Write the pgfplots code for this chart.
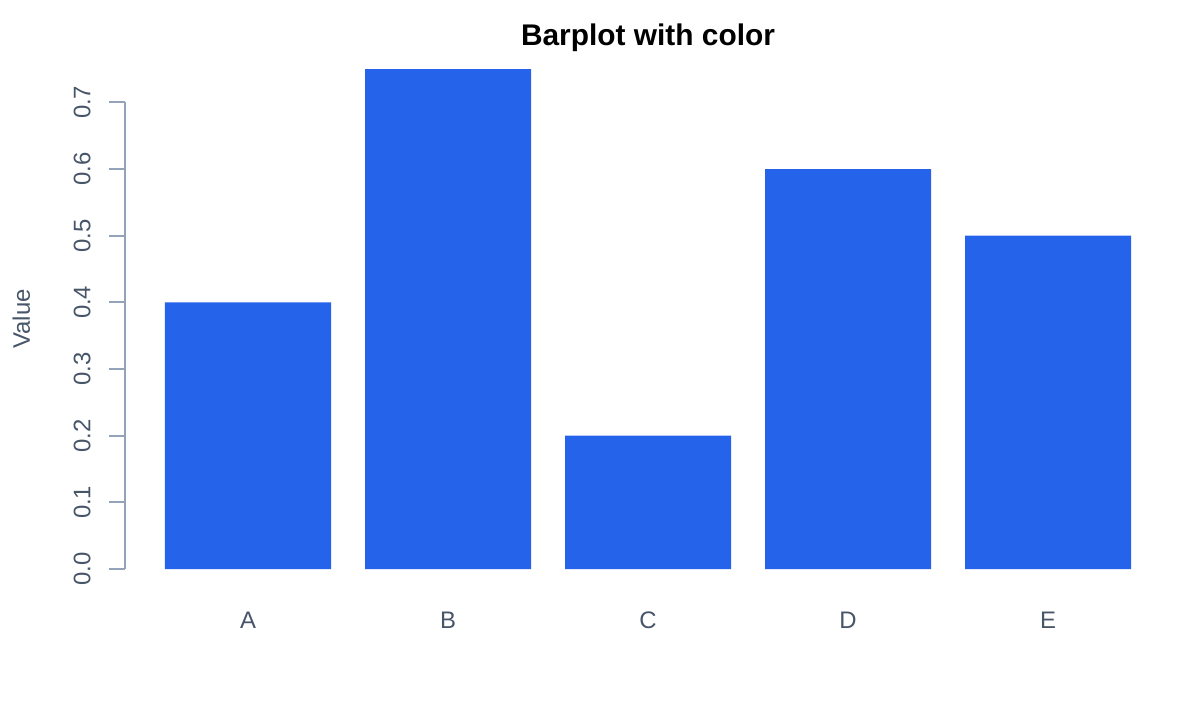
\documentclass[border=0pt]{standalone}
\usepackage{pgfplots}
\pgfplotsset{compat=1.18}
\usepackage{fontspec}
\setmainfont{Liberation Sans}
\definecolor{barblue}{HTML}{2563EB}
\definecolor{axisgray}{HTML}{94A3B8}
\definecolor{textgray}{HTML}{475569}
\begin{document}
\begin{tikzpicture}
\begin{axis}[
  scale only axis,
  width=10.35cm, height=5cm,
  xmin=-0.615, xmax=4.56,
  ymin=0, ymax=0.75,
  axis line style={draw=none},
  xtick={0,1,2,3,4},
  xticklabels={A,B,C,D,E},
  xtick style={draw=none},
  xticklabel style={anchor=base, yshift=-0.43cm},
  ytick={0,0.1,0.2,0.3,0.4,0.5,0.6,0.7},
  ytick pos=left,
  tick align=outside,
  major tick length=0.16cm,
  ytick style={color=axisgray, line width=0.5pt},
  yticklabel style={xshift=-0.06cm, rotate=90, anchor=south,
    /pgf/number format/.cd, fixed, fixed zerofill, precision=1, assume math mode=true},
  tick label style={font=\fontsize{6.8}{8}\selectfont, text=textgray},
  ylabel={Value},
  ylabel style={at={(axis description cs:-0.0918,0.5)}, rotate=0, anchor=base,
    font=\fontsize{6.8}{8}\selectfont, text=textgray},
  title={Barplot with color},
  every axis title shift=0pt,
  title style={at={(axis description cs:0.5053,1.048)}, anchor=base,
    font=\bfseries\fontsize{8.5}{10}\selectfont},
  bar width=0.83,
  clip=false,
]
\addplot[ybar, fill=barblue, draw=none] coordinates {
  (0,0.40) (1,0.75) (2,0.20) (3,0.60) (4,0.50)
};
\draw[axisgray, line width=0.5pt] (axis cs:-0.615,0) -- (axis cs:-0.615,0.7);
\end{axis}
\path (-1.25,-1.31) rectangle (10.75,5.69);
\end{tikzpicture}
\end{document}
